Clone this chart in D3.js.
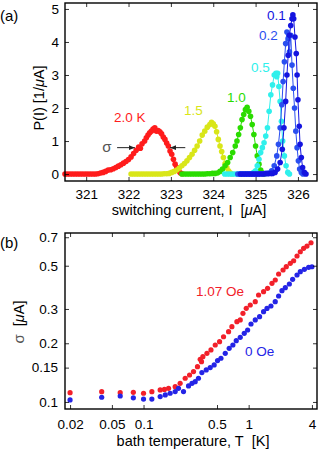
<!DOCTYPE html>
<html><head><meta charset="utf-8">
<script src="https://cdn.jsdelivr.net/npm/d3@7"></script>
<style>
html,body{margin:0;padding:0;background:#fff;}
svg text{font-family:"Liberation Sans",Arial,Helvetica,sans-serif;}
</style></head>
<body><svg id="c" width="319" height="450"></svg>
<script>
// ---------- Panel (a) data: switching current distributions [I (uA), P(I) (1/uA)]
const curveLabelsA = ["2.0 K","1.5","1.0","0.5","0.2","0.1"];
const red20 = [[320.50,0],[320.56,0],[320.62,0],[320.68,0],[320.74,0],[320.80,0],[320.86,0],[320.92,0],[320.98,0],[321.04,0],[321.10,0],[321.16,0],[321.22,0],[321.28,0.01],[321.34,0.03],[321.40,0.05],[321.46,0.08],[321.52,0.12],[321.58,0.13],[321.64,0.16],[321.70,0.20],[321.76,0.24],[321.82,0.28],[321.88,0.33],[321.94,0.38],[322.00,0.44],[322.06,0.52],[322.12,0.62],[322.18,0.72],[322.24,0.82],[322.28,0.78],[322.32,0.92],[322.38,1.00],[322.42,1.10],[322.46,1.18],[322.50,1.25],[322.54,1.30],[322.58,1.36],[322.62,1.40],[322.66,1.30],[322.70,1.32],[322.74,1.28],[322.78,1.22],[322.82,1.12],[322.86,1.05],[322.90,0.94],[322.94,0.85],[322.98,0.70],[323.02,0.60],[323.06,0.45],[323.10,0.30],[323.14,0.20],[323.18,0.10],[323.22,0.04],[323.26,0.01]];
const yel15 = [[322.06,0],[322.12,0],[322.18,0],[322.24,0],[322.30,0],[322.36,0],[322.42,0],[322.48,0],[322.54,0],[322.60,0],[322.66,0],[322.72,0],[322.78,0],[322.84,0.01],[322.90,0.01],[322.96,0.02],[323.02,0.05],[323.08,0.08],[323.14,0.12],[323.20,0.18],[323.26,0.25],[323.32,0.32],[323.38,0.40],[323.44,0.50],[323.50,0.60],[323.56,0.72],[323.62,0.85],[323.68,1.00],[323.74,1.18],[323.80,1.30],[323.86,1.42],[323.92,1.50],[323.96,1.57],[324.00,1.52],[324.04,1.45],[324.08,1.28],[324.12,1.05],[324.16,0.85],[324.20,0.68],[324.24,0.50],[324.28,0.32],[324.32,0.20],[324.36,0.10],[324.40,0.04],[324.44,0]];
const grn10 = [[323.26,0],[323.32,0],[323.38,0],[323.44,0],[323.50,0],[323.56,0],[323.62,0],[323.68,0],[323.74,0],[323.80,0],[323.86,0.01],[323.92,0.01],[323.98,0.02],[324.04,0.02],[324.10,0.03],[324.16,0.08],[324.22,0.15],[324.28,0.25],[324.34,0.35],[324.40,0.50],[324.46,0.65],[324.52,0.85],[324.56,1.00],[324.60,1.20],[324.64,1.40],[324.68,1.65],[324.72,1.80],[324.76,1.95],[324.80,2.02],[324.84,1.90],[324.88,1.75],[324.92,1.50],[324.96,1.20],[325.00,0.85],[325.04,0.55],[325.08,0.30],[325.12,0.12],[325.16,0.04],[325.20,0]];
const cyn05 = [[324.27,0],[324.33,0],[324.39,0],[324.45,0],[324.51,0],[324.57,0],[324.63,0],[324.69,0],[324.75,0],[324.81,0.01],[324.87,0.01],[324.93,0.02],[324.96,0.05],[325.00,0.10],[325.04,0.25],[325.08,0.45],[325.12,0.65],[325.16,0.80],[325.20,0.95],[325.24,1.15],[325.28,1.40],[325.32,1.90],[325.36,2.40],[325.40,2.70],[325.44,3.00],[325.48,3.05],[325.50,2.95],[325.52,3.05],[325.55,2.65],[325.58,2.20],[325.61,1.60],[325.64,1.00],[325.68,0.55],[325.72,0.25],[325.76,0.05],[325.80,0]];
const blu02 = [[324.58,0],[324.64,0],[324.70,0],[324.76,0],[324.82,0],[324.88,0],[324.94,0],[325.00,0],[325.06,0],[325.12,0.01],[325.18,0.01],[325.24,0.02],[325.28,0.02],[325.32,0.03],[325.38,0.10],[325.44,0.25],[325.50,0.55],[325.54,0.90],[325.58,1.40],[325.62,2.10],[325.65,2.80],[325.68,3.40],[325.71,3.95],[325.74,4.30],[325.77,4.10],[325.80,3.70],[325.83,4.20],[325.86,3.30],[325.89,2.60],[325.92,2.00],[325.95,1.30],[325.98,0.80],[326.01,0.40],[326.04,0.15],[326.08,0.05],[326.12,0]];
const blu01 = [[324.64,0],[324.70,0],[324.76,0],[324.82,0],[324.88,0],[324.94,0],[325.00,0],[325.06,0],[325.12,0],[325.18,0],[325.24,0.01],[325.30,0.01],[325.36,0.02],[325.40,0.02],[325.46,0.05],[325.52,0.15],[325.58,0.35],[325.63,0.75],[325.67,1.40],[325.71,2.20],[325.74,3.00],[325.77,3.60],[325.80,4.20],[325.83,4.50],[325.86,4.70],[325.88,4.82],[325.90,4.70],[325.93,4.15],[325.96,3.65],[325.98,3.00],[326.00,2.25],[326.03,1.45],[326.05,0.90],[326.08,0.50],[326.11,0.20],[326.15,0.05],[326.19,0]];
const xTicksA = [321,322,323,324,325,326];
const yTicksA = [0,1,2,3,4,5];

// ---------- Panel (b) data: sigma vs bath temperature [T (K), sigma (uA)]
const sigma107 = [[0.02,0.1116],[0.04,0.1129],[0.06,0.1116],[0.08,0.112],[0.10,0.1108],[0.12,0.1129],[0.144,0.1152],[0.158,0.116],[0.173,0.1175],[0.20,0.1198],[0.223,0.1246],[0.249,0.1323],[0.274,0.1375],[0.299,0.1431],[0.326,0.1517],[0.346,0.1656],[0.356,0.161],[0.367,0.1707],[0.401,0.1777],[0.438,0.1848],[0.481,0.196],[0.529,0.2038],[0.577,0.216],[0.644,0.2295],[0.693,0.2433],[0.773,0.258],[0.832,0.2634],[0.883,0.2849],[0.949,0.3022],[1.036,0.3144],[1.156,0.3269],[1.243,0.3538],[1.387,0.3679],[1.514,0.3829],[1.667,0.4061],[1.792,0.4224],[1.928,0.4533],[2.124,0.4753],[2.281,0.4942],[2.49,0.5144],[2.68,0.5304],[2.885,0.5608],[3.1,0.5899],[3.334,0.614],[3.59,0.631],[3.92,0.656]];
const sigma0 = [[0.02,0.1024],[0.04,0.1057],[0.06,0.1073],[0.08,0.105],[0.10,0.1035],[0.12,0.1035],[0.144,0.1065],[0.161,0.1086],[0.179,0.1108],[0.20,0.113],[0.215,0.1175],[0.24,0.113],[0.268,0.1208],[0.289,0.1246],[0.31,0.127],[0.333,0.1323],[0.359,0.1414],[0.395,0.1459],[0.431,0.15],[0.47,0.1548],[0.506,0.163],[0.545,0.1676],[0.599,0.1777],[0.653,0.1884],[0.708,0.196],[0.762,0.2063],[0.832,0.2146],[0.908,0.225],[0.978,0.234],[1.053,0.2512],[1.156,0.2634],[1.271,0.274],[1.387,0.2904],[1.494,0.302],[1.63,0.3107],[1.79,0.327],[1.928,0.3497],[2.075,0.3722],[2.233,0.3856],[2.44,0.403],[2.62,0.4257],[2.885,0.448],[3.1,0.4658],[3.39,0.479],[3.72,0.4905],[4.0,0.494]];
const xTicksB = [0.02,0.05,0.1,0.5,1,4];
const xTickLabelsB = ["0.02","0.05","0.1","0.5","1","4"];
const yTicksB = [0.1,0.15,0.2,0.3,0.5,0.7];
const yTickLabelsB = ["0.1","0.15","0.2","0.3","0.5","0.7"];
const seriesLabelsB = ["1.07 Oe","0 Oe"];

// ---------- drawing
const svg = d3.select("#c");
const FS = 13.5;

function frame(g, x0, y0, x1, y1){
  g.append("rect").attr("x",x0).attr("y",y0).attr("width",x1-x0).attr("height",y1-y0)
    .attr("fill","none").attr("stroke","#000").attr("stroke-width",1.4);
}
function styleAxis(sel){
  sel.select(".domain").remove();
  sel.selectAll(".tick line").attr("stroke","#000").attr("stroke-width",0.8);
  sel.selectAll(".tick text").attr("fill","#000").style("font-size",FS+"px");
}

// Panel (a)
{
  const L=65,R=317,T=3,B=181;
  const x = d3.scaleLinear().domain([320.5,326.45]).range([L,R]);
  const y = d3.scaleLinear().domain([-0.21,5.18]).range([B,T]);
  const g = svg.append("g");
  const series = [
    {d:red20, c:"#ff1c1c"},
    {d:yel15, c:"#d9e619"},
    {d:grn10, c:"#2bdc00"},
    {d:cyn05, c:"#2ff0ec"},
    {d:blu02, c:"#2a4ff0"},
    {d:blu01, c:"#1414e0"}
  ];
  const line = d3.line().x(d=>x(d[0])).y(d=>y(d[1]));
  series.forEach(s=>{
    g.append("path").attr("d",line(s.d)).attr("fill","none").attr("stroke",s.c).attr("stroke-width",1);
    g.selectAll(null).data(s.d).enter().append("circle")
      .attr("cx",d=>x(d[0])).attr("cy",d=>y(d[1])).attr("r",2.8).attr("fill",s.c);
  });
  g.append("g").attr("transform",`translate(0,${B})`)
    .call(d3.axisBottom(x).tickValues(xTicksA).tickSizeInner(-4).tickSizeOuter(0).tickPadding(8).tickFormat(d3.format("d"))).call(styleAxis);
  g.append("g").attr("transform",`translate(0,${T})`)
    .call(d3.axisTop(x).tickValues(xTicksA).tickSizeInner(-4).tickSizeOuter(0).tickFormat("")).call(styleAxis);
  g.append("g").attr("transform",`translate(${L},0)`)
    .call(d3.axisLeft(y).tickValues(yTicksA).tickSizeInner(-4).tickSizeOuter(0).tickPadding(6).tickFormat(d3.format("d"))).call(styleAxis);
  g.append("g").attr("transform",`translate(${R},0)`)
    .call(d3.axisRight(y).tickValues(yTicksA).tickSizeInner(-4).tickSizeOuter(0).tickFormat("")).call(styleAxis);
  frame(g,L,T,R,B);

  // curve labels
  const lab = [
    {t:curveLabelsA[0], x:114, y:122, c:"#ff1c1c"},
    {t:curveLabelsA[1], x:184, y:115, c:"#d9e619"},
    {t:curveLabelsA[2], x:227, y:102, c:"#2bdc00"},
    {t:curveLabelsA[3], x:251, y:72, c:"#2ff0ec"},
    {t:curveLabelsA[4], x:259, y:40, c:"#2a4ff0"},
    {t:curveLabelsA[5], x:267, y:20, c:"#1414e0"}
  ];
  lab.forEach(l=>g.append("text").attr("x",l.x).attr("y",l.y).attr("fill",l.c).style("font-size","13.5px").text(l.t));

  // sigma arrows
  const defs = svg.append("defs");
  defs.append("marker").attr("id","ah").attr("viewBox","0 0 10 10").attr("refX",10).attr("refY",5)
    .attr("markerWidth",6).attr("markerHeight",6).attr("orient","auto")
    .append("path").attr("d","M0,1 L10,5 L0,9 Z").attr("fill","#222");
  g.append("line").attr("x1",x(321.73)).attr("y1",y(0.8)).attr("x2",x(322.15)).attr("y2",y(0.8))
    .attr("stroke","#222").attr("stroke-width",1).attr("marker-end","url(#ah)");
  g.append("line").attr("x1",x(323.34)).attr("y1",y(0.8)).attr("x2",x(322.98)).attr("y2",y(0.8))
    .attr("stroke","#222").attr("stroke-width",1).attr("marker-end","url(#ah)");
  g.append("text").attr("x",x(321.49)).attr("y",y(0.8)+4).attr("text-anchor","middle")
    .attr("fill","#555").style("font-size","15px").text("σ");

  // axis titles
  g.append("text").attr("x",(L+R)/2-2).attr("y",215).attr("text-anchor","middle").style("font-size","14.5px")
    .html('switching current, I&#160;&#160;[<tspan font-style="italic">μ</tspan>A]');
  g.append("text").attr("transform",`translate(44,${(T+B)/2+6}) rotate(-90)`).attr("text-anchor","middle").style("font-size","14.5px")
    .html('P(I) [1/<tspan font-style="italic">μ</tspan>A]');
  g.append("text").attr("x",0).attr("y",21).style("font-size","15px").text("(a)");
}

// Panel (b)
{
  const L=65,R=317,T=233,B=409;
  const x = d3.scaleLog().domain([0.0179,4.47]).range([L,R]);
  const y = d3.scaleLog().domain([0.092,0.736]).range([B,T]);
  const g = svg.append("g");
  const series = [{d:sigma107,c:"#f2202a"},{d:sigma0,c:"#2424e6"}];
  series.forEach(s=>{
    g.selectAll(null).data(s.d).enter().append("circle")
      .attr("cx",d=>x(d[0])).attr("cy",d=>y(d[1])).attr("r",2.6).attr("fill",s.c);
  });
  g.append("g").attr("transform",`translate(0,${B})`)
    .call(d3.axisBottom(x).tickValues(xTicksB).tickSizeInner(-4).tickSizeOuter(0).tickPadding(10).tickFormat((d,i)=>xTickLabelsB[i])).call(styleAxis);
  g.append("g").attr("transform",`translate(0,${T})`)
    .call(d3.axisTop(x).tickValues(xTicksB).tickSizeInner(-4).tickSizeOuter(0).tickFormat("")).call(styleAxis);
  g.append("g").attr("transform",`translate(${L},0)`)
    .call(d3.axisLeft(y).tickValues(yTicksB).tickSizeInner(-4).tickSizeOuter(0).tickPadding(7).tickFormat((d,i)=>yTickLabelsB[i])).call(styleAxis);
  g.append("g").attr("transform",`translate(${R},0)`)
    .call(d3.axisRight(y).tickValues(yTicksB).tickSizeInner(-4).tickSizeOuter(0).tickFormat("")).call(styleAxis);
  frame(g,L,T,R,B);

  g.append("text").attr("x",196).attr("y",296).attr("fill","#f2202a").style("font-size","13.5px").text(seriesLabelsB[0]);
  g.append("text").attr("x",245).attr("y",356).attr("fill","#2424e6").style("font-size","13.5px").text(seriesLabelsB[1]);

  g.append("text").attr("x",(L+R)/2+2).attr("y",446).attr("text-anchor","middle").style("font-size","14.5px")
    .html('bath temperature, T&#160;&#160;[K]');
  g.append("text").attr("transform",`translate(24,322) rotate(-90)`).attr("text-anchor","middle").style("font-size","14.5px")
    .html('<tspan fill="#555" font-size="15px">σ</tspan>&#160;&#160;[<tspan font-style="italic">μ</tspan>A]');
  g.append("text").attr("x",0).attr("y",248).style("font-size","15px").text("(b)");
}
</script></body></html>
